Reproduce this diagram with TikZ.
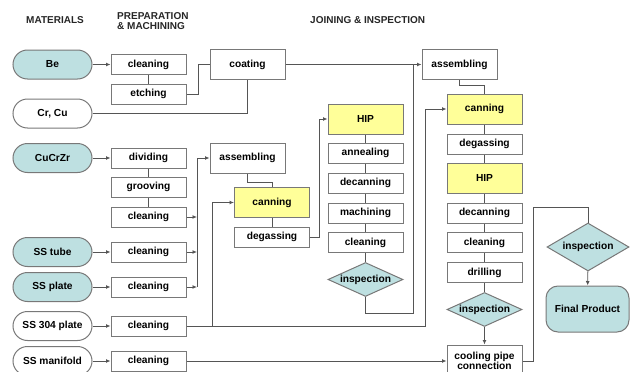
\documentclass[tikz,border=0pt]{standalone}
\usepackage{fontspec}
\setmainfont{Liberation Sans}
\usepackage{tikz}
\usetikzlibrary{arrows.meta, positioning, shapes.geometric, calc}
\definecolor{matfill}{RGB}{190,224,225}
\definecolor{hipfill}{RGB}{255,255,153}
\definecolor{rim}{RGB}{120,120,120}
\definecolor{wire}{RGB}{85,85,85}

\begin{document}
\begin{tikzpicture}[x=1pt, y=-1pt,
  every node/.style={font=\fontsize{10.2}{12}\selectfont\bfseries},
  head/.style={font=\fontsize{10}{11}\selectfont\bfseries, text=black!85},
  proc/.style={draw=rim, line width=1pt, fill=white, minimum width=75pt, minimum height=20pt, inner sep=1pt},
  tall/.style={proc, minimum height=30pt},
  hot/.style={tall, fill=hipfill},
  mat/.style={draw=rim, line width=1pt, rounded corners=14.5pt, minimum width=79pt, minimum height=29pt, inner sep=1pt},
  matc/.style={mat, fill=matfill},
  check/.style={diamond, draw=rim, line width=1pt, fill=matfill, aspect=2.2, inner sep=0pt, minimum width=75pt, minimum height=34pt},
  link/.style={draw=wire, line width=0.9pt},
  arr/.style={link, -{Latex[length=4.5pt, width=4pt]}}]
  \useasboundingbox (0,0) rectangle (630,372);
  % headings
  \node[head] at (55,20) {MATERIALS};
  \node[head, anchor=west, align=left, inner sep=0pt] at (117,21) {PREPARATION\\[-1pt]\& MACHINING};
  \node[head, anchor=west, inner sep=0pt] at (310,20) {JOINING \& INSPECTION};
  % materials
  \node[matc] (be)     at (52.5,64.5)  {Be};
  \node[mat]  (crcu)   at (52.5,113.5) {Cr, Cu};
  \node[matc] (cucrzr) at (52.5,158)   {CuCrZr};
  \node[matc] (tube)   at (52.5,252)   {SS tube};
  \node[matc] (plate)  at (52.5,287)   {SS plate};
  \node[mat]  (ssfour) at (52.5,326)   {SS 304 plate};
  \node[mat]  (mani)   at (52.5,361)   {SS manifold};
  % preparation & machining
  \node[proc] (clnA)  at (148.5,64.5) {cleaning};
  \node[proc] (etch)  at (148.5,94)   {etching};
  \node[proc] (divd)  at (148.5,158)  {dividing};
  \node[proc] (groov) at (148.5,187)  {grooving};
  \node[proc] (clnB)  at (148.5,217)  {cleaning};
  \node[proc] (clnC)  at (148.5,252)  {cleaning};
  \node[proc] (clnD)  at (148.5,287)  {cleaning};
  \node[proc] (clnE)  at (148.5,326)  {cleaning};
  \node[proc] (clnF)  at (148.5,361)  {cleaning};
  % joining, first stage
  \node[tall] (coat)  at (247.5,64.5) {coating};
  \node[tall] (asmA)  at (247.5,158)  {assembling};
  \node[hot]  (canA)  at (272,202.5)  {canning};
  \node[proc] (gasA)  at (272,237)    {degassing};
  \node[hot]  (hipA)  at (365.5,119)  {HIP};
  \node[proc] (anne)  at (365.5,153)  {annealing};
  \node[proc] (dcnA)  at (365.5,183)  {decanning};
  \node[proc] (mach)  at (365.5,213)  {machining};
  \node[proc] (clnG)  at (365.5,242.5){cleaning};
  \node[check](insA)  at (365.5,279.5){inspection};
  % joining, second stage
  \node[tall] (asmB)  at (459.5,64.5) {assembling};
  \node[hot]  (canB)  at (484.5,109)  {canning};
  \node[proc] (gasB)  at (484.5,144)  {degassing};
  \node[hot]  (hipB)  at (484.5,178)  {HIP};
  \node[proc] (dcnB)  at (484.5,213)  {decanning};
  \node[proc] (clnH)  at (484.5,242.5){cleaning};
  \node[proc] (drill) at (484.5,272.5){drilling};
  \node[check](insB)  at (484.5,309.5){inspection};
  \node[proc, minimum height=32pt, align=center] (cool) at (484.5,361) {cooling pipe\\[-2pt]connection};
  \node[check, minimum width=82pt, minimum height=48pt] (insC) at (588,247) {inspection};
  \node[draw=rim, line width=1pt, fill=matfill, rounded corners=12pt, minimum width=83pt, minimum height=46pt] (final) at (587.5,309) {Final Product};
  % helper points on the wires
  \coordinate (busA) at (197,287);
  \coordinate (joinA) at (413,64.5);
  \coordinate (riseB) at (425,109);
  \coordinate (riseA) at (212,326);
  \coordinate (topC) at (588,207);
  % connectors
  \draw[arr] (be) -- (clnA);
  \draw[link] (clnA) -- (etch);
  \draw[link] (etch.east) -- ++(12,0) |- (coat.west);
  \draw[link] (crcu.east) -| (coat.south);
  \draw[arr] (coat) -- (asmB);
  \draw[arr] (cucrzr) -- (divd);
  \draw[link] (divd) -- (groov) -- (clnB);
  \foreach \c in {clnB, clnC, clnD}
    \draw[arr] (\c.east) -- (\c.east -| busA);
  \draw[arr] (busA) |- (asmA.west);
  \draw[arr] (tube) -- (clnC);
  \draw[arr] (plate) -- (clnD);
  \draw[link] (asmA.south) -- ++(0,9) -| (canA.north);
  \draw[link] (canA) -- (gasA);
  \draw[arr] (gasA.east) -- ++(9,0) |- (hipA.west);
  \draw[link] (hipA) -- (anne) -- (dcnA) -- (mach) -- (clnG) -- (insA);
  \draw[link] (insA.south) -- ++(0,16) -| (joinA);
  \draw[arr] (ssfour) -- (clnE);
  \draw[arr] (clnE.east) -| (riseB) -- (canB.west);
  \draw[arr] (riseA) |- (canA.west);
  \draw[arr] (mani) -- (clnF);
  \draw[arr] (clnF) -- (cool);
  \draw[link] (asmB.south) -- ++(0,5.5) -| (canB.north);
  \draw[link] (canB) -- (gasB) -- (hipB) -- (dcnB) -- (clnH) -- (drill) -- (insB);
  \draw[arr] (insB) -- (cool);
  \draw[link] (cool.east) -- ++(11,0) |- (topC) -- (insC.north);
  \draw[arr] (insC) -- (final);
\end{tikzpicture}
\end{document}
